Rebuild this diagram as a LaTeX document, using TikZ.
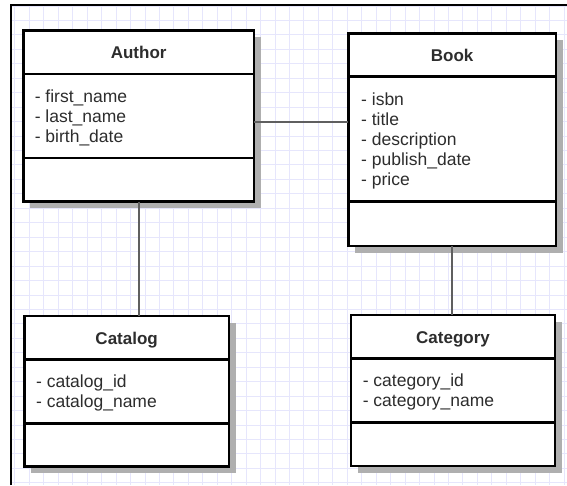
\documentclass[tikz,border=0pt]{standalone}
\usepackage{fontspec}
\setmainfont{Liberation Sans}
\usetikzlibrary{shadows,calc}
\definecolor{gridc}{RGB}{230,230,252}
\definecolor{txt}{RGB}{45,45,45}
\definecolor{shade}{RGB}{175,175,175}
\definecolor{connc}{RGB}{95,95,95}
\begin{document}
\begin{tikzpicture}[x=1pt,y=-1pt,
  umlbox/.style={draw=black, line width=2.5pt, fill=white, outer sep=0pt, inner sep=0pt, anchor=north west,
    drop shadow={shadow xshift=6.5pt, shadow yshift=-6.5pt, fill=shade, opacity=1}},
  divider/.style={draw=black, line width=2.5pt},
  titletext/.style={font=\fontsize{17}{20}\selectfont\bfseries, text=txt, anchor=base, inner sep=0pt},
  attr/.style={font=\fontsize{17.5}{20}\selectfont, text=txt, anchor=base west, inner sep=0pt},
  conn/.style={draw=connc, line width=2pt},
  gridline/.style={draw=gridc, line width=1pt},
  frameline/.style={draw=black, line width=2pt}]
\useasboundingbox (0,0) rectangle (567,485);
\fill[white] (0,0) rectangle (567,485);
% grid
\begin{scope}
  \clip (11,5) rectangle (567,485);
  \foreach \k in {0,...,39} \draw[gridline] ({0.5+14.45*\k},0) -- ({0.5+14.45*\k},485);
  \foreach \k in {0,...,33} \draw[gridline] (0,{6+14.45*\k}) -- (567,{6+14.45*\k});
\end{scope}
\draw[frameline] (11,485) -- (11,5) -- (567,5);

% boxes
\node[umlbox, minimum width=230.7pt, minimum height=171pt] (author) at (23.3,30.7) {};
\node[umlbox, minimum width=207.7pt, minimum height=212.7pt] (book) at (348.3,33.3) {};
\node[umlbox, minimum width=204.7pt, minimum height=150.7pt] (catalog) at (24.3,316) {};
\node[umlbox, minimum width=204pt, minimum height=151pt] (category) at (351,315) {};

% dividers
\draw[divider] (author.west |- 0,74) -- (author.east |- 0,74);
\draw[divider] (author.west |- 0,158) -- (author.east |- 0,158);
\draw[divider] (book.west |- 0,76.7) -- (book.east |- 0,76.7);
\draw[divider] (book.west |- 0,201.7) -- (book.east |- 0,201.7);
\draw[divider] (catalog.west |- 0,359.3) -- (catalog.east |- 0,359.3);
\draw[divider] (catalog.west |- 0,423.3) -- (catalog.east |- 0,423.3);
\draw[divider] (category.west |- 0,358.3) -- (category.east |- 0,358.3);
\draw[divider] (category.west |- 0,422.3) -- (category.east |- 0,422.3);

% titles
\node[titletext] (author-t) at ($(author.north)+(0,28)$) {Author};
\node[titletext] (book-t) at ($(book.north)+(0,28)$) {Book};
\node[titletext] (catalog-t) at ($(catalog.north)+(0,28)$) {Catalog};
\node[titletext] (category-t) at ($(category.north)+(0,28)$) {Category};

% attributes
\foreach \t [count=\i] in {- first\_name, - last\_name, - birth\_date}
  \node[attr] (author-a\i) at (34.6,{102.5+20*(\i-1)}) {\t};
\foreach \t [count=\i] in {- isbn, - title, - description, - publish\_date, - price}
  \node[attr] (book-a\i) at (361,{105.2+20*(\i-1)}) {\t};
\foreach \t [count=\i] in {- catalog\_id, - catalog\_name}
  \node[attr] (catalog-a\i) at (36,{387.8+20*(\i-1)}) {\t};
\foreach \t [count=\i] in {- category\_id, - category\_name}
  \node[attr] (category-a\i) at (362.6,{386.8+20*(\i-1)}) {\t};

% connectors
\draw[conn] (author.east |- 0,121.7) -- (book.west |- 0,121.7);
\draw[conn] (author.south) -- (author.south |- catalog.north);
\draw[conn] (book.south) -- (book.south |- category.north);
\end{tikzpicture}
\end{document}
